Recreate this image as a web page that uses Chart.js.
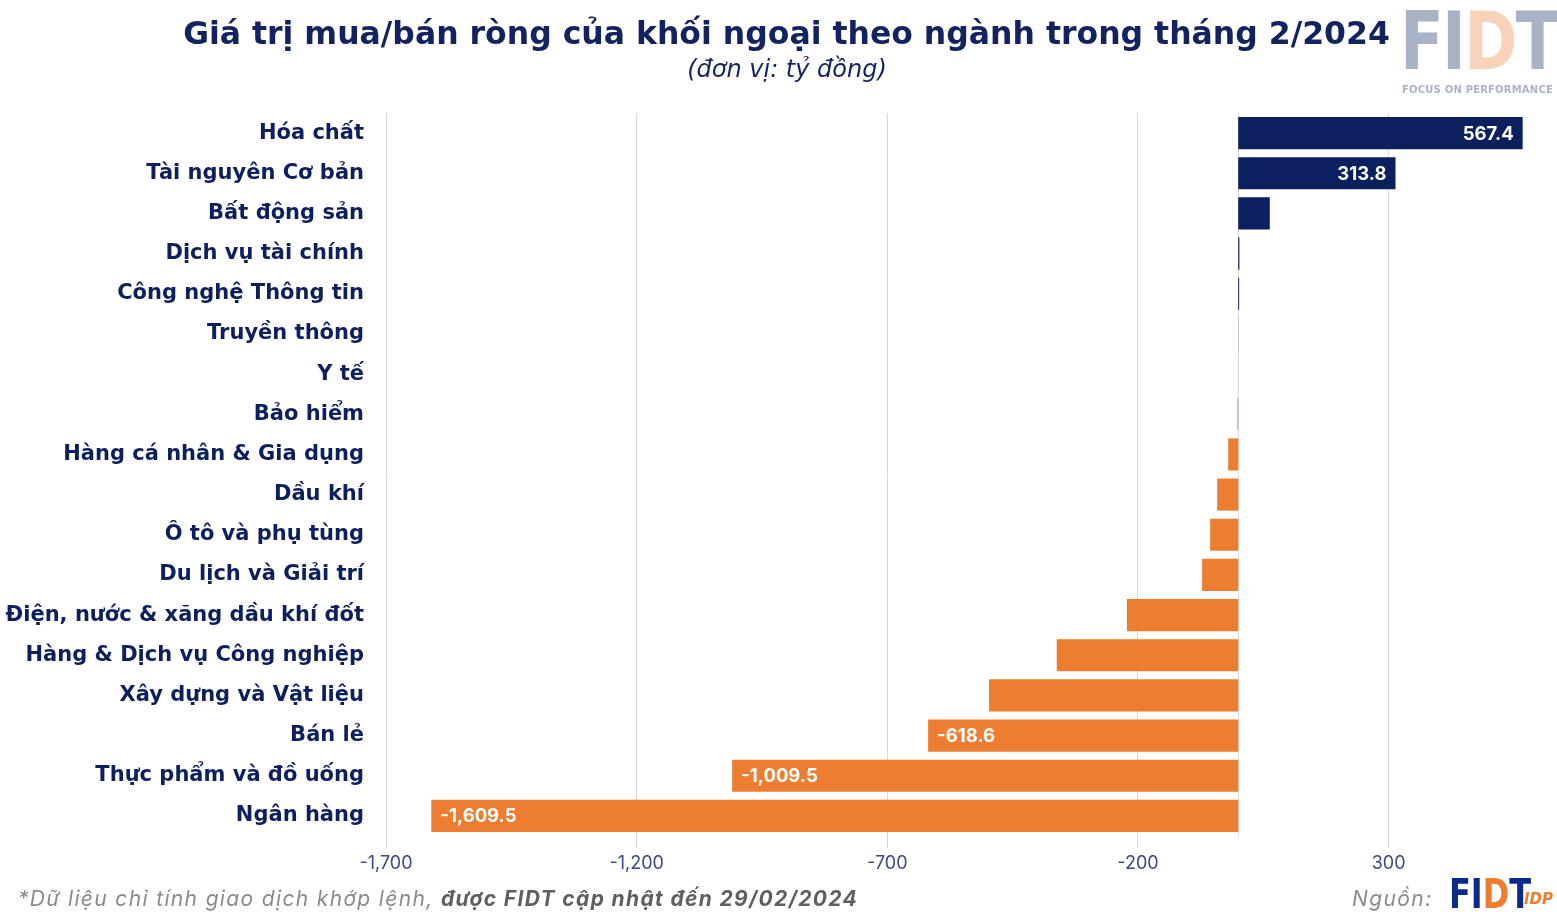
<!DOCTYPE html>
<html lang="vi">
<head>
<meta charset="utf-8">
<title>Giá trị mua/bán ròng của khối ngoại theo ngành</title>
<script src="https://cdn.jsdelivr.net/npm/chart.js@4.4.1/dist/chart.umd.min.js"></script>
<style>
  html, body {
    margin: 0;
    padding: 0;
    background: #ffffff;
    overflow: hidden;
  }
  #wrap {
    position: relative;
    width: 1557px;
    height: 912px;
  }
  #chartCanvas {
    position: absolute;
    left: 0;
    top: 0;
  }
  .title {
    position: absolute;
    left: 0;
    width: 1573px;
    top: 13px;
    text-align: center;
    font-family: "DejaVu Sans", sans-serif;
    font-weight: bold;
    font-size: 31.5px;
    line-height: 40px;
    color: #13235f;
    white-space: nowrap;
  }
  .subtitle {
    position: absolute;
    left: 0;
    width: 1574px;
    top: 54px;
    text-align: center;
    font-family: "DejaVu Sans", sans-serif;
    font-style: italic;
    font-size: 24px;
    line-height: 30px;
    color: #13235f;
  }
  .logo-top {
    position: absolute;
    left: 1400px;
    top: 2px;
    font-family: "DejaVu Sans", sans-serif;
    font-weight: 900;
    font-size: 80px;
    letter-spacing: -2px;
    color: #a9b3c7;
    transform: scaleX(0.8);
    transform-origin: left top;
    line-height: 1;
  }
  .logo-top .d { color: #f8d3b9; }
  .tagline {
    position: absolute;
    left: 1402px;
    top: 84px;
    font-family: "DejaVu Sans", sans-serif;
    font-weight: bold;
    font-size: 10px;
    color: #a9b3c7;
    letter-spacing: 0.2px;
  }
  .note {
    position: absolute;
    left: 18px;
    top: 886px;
    font-family: Inter, sans-serif;
    font-style: italic;
    font-size: 21px;
    letter-spacing: 1.35px;
    color: #8a8a8a;
    white-space: nowrap;
  }
  .note b { color: #5f5f5f; }
  .source {
    position: absolute;
    left: 1352px;
    top: 886px;
    font-family: Inter, sans-serif;
    font-style: italic;
    font-size: 21px;
    letter-spacing: 1.4px;
    color: #8a8a8a;
  }
  .logo-bottom {
    position: absolute;
    left: 1449px;
    top: 874px;
    font-family: "DejaVu Sans", sans-serif;
    font-weight: 900;
    font-size: 40px;
    color: #0b2a8a;
    transform: scaleX(0.8);
    transform-origin: left top;
    line-height: 1;
  }
  .logo-bottom .d { color: #ee7d2f; }
  .idp {
    position: absolute;
    left: 1524px;
    top: 890px;
    font-family: "DejaVu Sans", sans-serif;
    font-weight: bold;
    font-style: italic;
    font-size: 15px;
    color: #ee7d2f;
  }
</style>
</head>
<body>
<div id="wrap">
  <canvas id="chartCanvas" width="1557" height="912"></canvas>
  <div class="title">Giá trị mua/bán ròng của khối ngoại theo ngành trong tháng 2/2024</div>
  <div class="subtitle">(đơn vị: tỷ đồng)</div>
  <div class="logo-top">FI<span class="d">D</span>T</div>
  <div class="tagline">FOCUS ON PERFORMANCE</div>
  <div class="note">*Dữ liệu chỉ tính giao dịch khớp lệnh, <b>được FIDT cập nhật đến 29/02/2024</b></div>
  <div class="source">Nguồn:</div>
  <div class="logo-bottom">FI<span class="d">D</span>T</div>
  <div class="idp">IDP</div>
</div>
<script>
  // Net foreign buy/sell by sector, Feb 2024 (billion VND)
  const sectors = [
    "Hóa chất",
    "Tài nguyên Cơ bản",
    "Bất động sản",
    "Dịch vụ tài chính",
    "Công nghệ Thông tin",
    "Truyền thông",
    "Y tế",
    "Bảo hiểm",
    "Hàng cá nhân & Gia dụng",
    "Dầu khí",
    "Ô tô và phụ tùng",
    "Du lịch và Giải trí",
    "Điện, nước & xăng dầu khí đốt",
    "Hàng & Dịch vụ Công nghiệp",
    "Xây dựng và Vật liệu",
    "Bán lẻ",
    "Thực phẩm và đồ uống",
    "Ngân hàng",
  ];
  const netValues = [
    567.4, 313.8, 63.0, 2.4, 1.9, 0.2, -0.1, -1.6, -20.0, -42.0, -56.0,
    -72.0, -222.0, -362.0, -497.0, -618.6, -1009.5, -1609.5,
  ];
  // only these sectors carry a value label on the bar
  const labeledSectors = [
    "Hóa chất",
    "Tài nguyên Cơ bản",
    "Bán lẻ",
    "Thực phẩm và đồ uống",
    "Ngân hàng",
  ];
  const xTickValues = [-1700, -1200, -700, -200, 300];

  const NAVY = "#0c1f5e";
  const ORANGE = "#ed7d31";
  const fmt = (v, digits) =>
    v.toLocaleString("en-US", {
      minimumFractionDigits: digits,
      maximumFractionDigits: digits,
    });

  // light vertical line through zero
  const zeroLine = {
    id: "zeroLine",
    beforeDatasetsDraw(chart) {
      const { ctx, chartArea, scales } = chart;
      const x = Math.round(scales.x.getPixelForValue(0)) + 0.5;
      ctx.save();
      ctx.strokeStyle = "#d9d9d9";
      ctx.lineWidth = 1;
      ctx.beginPath();
      ctx.moveTo(x, chartArea.top);
      ctx.lineTo(x, chartArea.bottom);
      ctx.stroke();
      ctx.restore();
    },
  };

  // white value labels inside the bar ends
  const barLabels = {
    id: "barLabels",
    afterDatasetsDraw(chart) {
      const ctx = chart.ctx;
      const meta = chart.getDatasetMeta(0);
      ctx.save();
      ctx.font = "bold 18.5px Inter, sans-serif";
      ctx.fillStyle = "#ffffff";
      ctx.textBaseline = "middle";
      netValues.forEach((value, index) => {
        if (!labeledSectors.includes(sectors[index])) return;
        const bar = meta.data[index];
        const text = fmt(value, 1);
        if (value >= 0) {
          ctx.textAlign = "right";
          ctx.fillText(text, bar.x - 9, bar.y + 1);
        } else {
          ctx.textAlign = "left";
          ctx.fillText(text, bar.x + 9, bar.y + 1);
        }
      });
      ctx.restore();
    },
  };

  const ctx = document.getElementById("chartCanvas").getContext("2d");
  new Chart(ctx, {
    type: "bar",
    data: {
      labels: sectors,
      datasets: [
        {
          data: netValues,
          backgroundColor: netValues.map((v) => (v >= 0 ? NAVY : ORANGE)),
          borderWidth: 0,
          barPercentage: 0.8,
          categoryPercentage: 1.0,
        },
      ],
    },
    options: {
      indexAxis: "y",
      responsive: false,
      animation: false,
      layout: {
        padding: { left: 0, right: 18, top: 113, bottom: 36 },
      },
      plugins: {
        legend: { display: false },
        tooltip: { enabled: false },
      },
      scales: {
        x: {
          min: -1700,
          max: 600,
          afterBuildTicks: (scale) => {
            scale.ticks = xTickValues.map((v) => ({ value: v }));
          },
          afterFit: (scale) => {
            scale.height = 40;
          },
          border: { display: false },
          grid: {
            color: "#d9d9d9",
            lineWidth: 1,
            drawTicks: true,
            tickLength: 12,
          },
          ticks: {
            color: "#3d4b7c",
            font: { family: "Inter, sans-serif", size: 18 },
            padding: 5,
            callback: (value) => fmt(value, 0),
          },
        },
        y: {
          afterFit: (scale) => {
            scale.width = 386;
          },
          border: { display: false },
          grid: { display: false, drawTicks: false },
          ticks: {
            color: NAVY,
            font: { family: "'DejaVu Sans', sans-serif", size: 21, weight: "bold" },
            padding: 22,
          },
        },
      },
    },
    plugins: [zeroLine, barLabels],
  });
</script>
</body>
</html>
